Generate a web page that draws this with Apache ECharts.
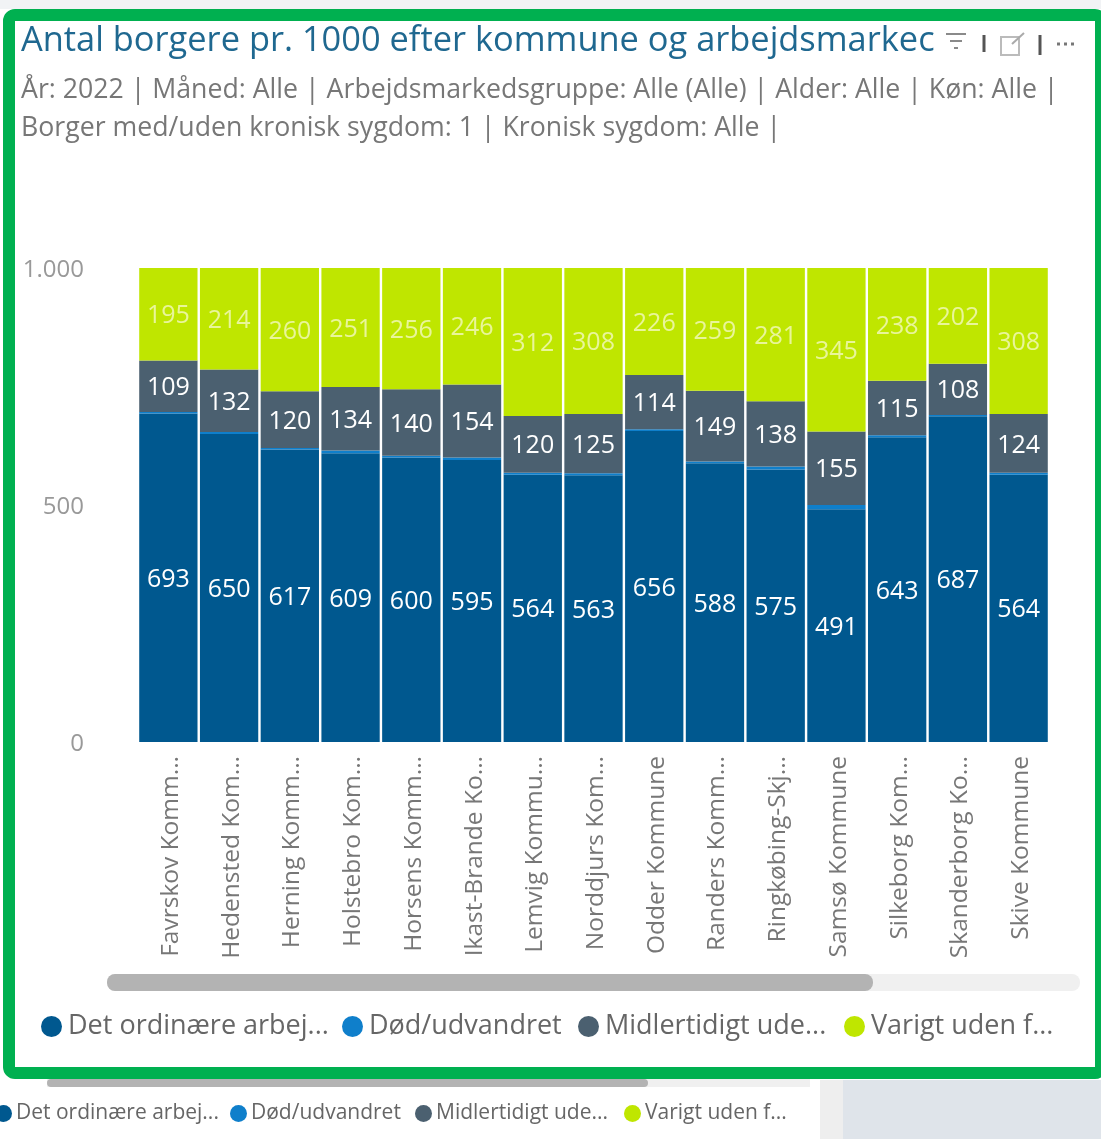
<!DOCTYPE html>
<html><head><meta charset="utf-8">
<style>html,body{margin:0;padding:0;background:#fff}#c{width:1101px;height:1139px}</style>
<script src="https://cdn.jsdelivr.net/npm/echarts@6/dist/echarts.min.js"></script>
</head><body><div id="c"></div>
<script>
const categories=["Favrskov Komm...","Hedensted Kom...","Herning Komm...","Holstebro Kom...","Horsens Komm...","Ikast-Brande Ko...","Lemvig Kommu...","Norddjurs Kom...","Odder Kommune","Randers Komm...","Ringkøbing-Skj...","Samsø Kommune","Silkeborg Kom...","Skanderborg Ko...","Skive Kommune"];
const ordinaere=[693,650,617,609,600,595,564,563,656,588,575,491,643,687,564];
const doed=[3,4,3,6,4,5,4,4,4,4,6,9,4,3,4];
const midlertidig=[109,132,120,134,140,154,120,125,114,149,138,155,115,108,124];
const varigt=[195,214,260,251,256,246,312,308,226,259,281,345,238,202,308];
const legendNames=["Det ordinære arbej...","Død/udvandret","Midlertidigt ude...","Varigt uden f..."];
const yTicks={0:"0",500:"500",1000:"1.000"};
const FONT='"Open Sans","Noto Sans",sans-serif';
const colors=["#00588f","#0f7fcb","#4b6070","#bfe600"];
const chart=echarts.init(document.getElementById('c'),null,{renderer:'canvas'});
const barSeries=(name,data,color,label)=>({name,type:'bar',stack:'a',data,barCategoryGap:'4%',
  itemStyle:{color},label:label?{show:true,position:'inside',offset:[0,2],color:label,fontSize:25,fontFamily:FONT}:{show:false}});
const mkLegend=(i,left,top,size,sym,pad)=>({data:[legendNames[i]],left,top,icon:'circle',itemWidth:sym,itemHeight:sym,padding:0,
  selectedMode:false,textStyle:{color:'#666',fontSize:size,fontFamily:FONT,padding:[0,0,0,pad]}});
const rect=(x,y,w,h,fill,r)=>({type:'rect',shape:{x,y,width:w,height:h,r:r||0},style:{fill},silent:true});
const line=(x1,y1,x2,y2,stroke,w)=>({type:'line',shape:{x1,y1,x2,y2},style:{stroke,lineWidth:w||2},silent:true});
chart.setOption({
  animation:false,backgroundColor:'#fff',
  title:{text:'Antal borgere pr. 1000 efter kommune og arbejdsmarkec',
    subtext:'År: 2022 | Måned: Alle | Arbejdsmarkedsgruppe: Alle (Alle) | Alder: Alle | Køn: Alle |\nBorger med/uden kronisk sygdom: 1 | Kronisk sygdom: Alle |',
    left:21,top:24,padding:0,itemGap:13,
    textStyle:{color:'#1f6890',fontSize:34.4,fontWeight:500,fontFamily:FONT},
    subtextStyle:{color:'#777',fontSize:26.7,lineHeight:38,fontFamily:FONT}},
  legend:[mkLegend(0,41,1013,27,21,1),mkLegend(1,342,1013,27,21,1),mkLegend(2,578,1013,27,21,1),mkLegend(3,844,1013,27,21,1),
    mkLegend(0,-5,1103,21,17,-1),mkLegend(1,230,1103,21,17,-1),mkLegend(2,415,1103,21,17,-1),mkLegend(3,624,1103,21,17,-1)],
  grid:{left:138,right:52,top:268,height:474},
  xAxis:{type:'category',data:categories,axisLine:{show:false},axisTick:{show:false},
    axisLabel:{rotate:90,interval:0,margin:14,formatter:v=>`{t|${v}}`,
      rich:{t:{color:'#777',fontSize:24.5,fontFamily:FONT,padding:[5,0,0,0]}}}},
  yAxis:{type:'value',min:0,max:1000,interval:500,splitLine:{show:false},axisLine:{show:false},axisTick:{show:false},
    axisLabel:{margin:54,formatter:v=>`{t|${yTicks[v]}}`,
      rich:{t:{color:'#999',fontSize:24,fontFamily:FONT,padding:[4,0,0,0]}}}},
  series:[barSeries(legendNames[0],ordinaere,colors[0],'#fff'),barSeries(legendNames[1],doed,colors[1]),
    barSeries(legendNames[2],midlertidig,colors[2],'#fff'),barSeries(legendNames[3],varigt,colors[3],'#e9f59a')],
  graphic:[
    rect(0,0,1101,9,'#f1f3f5'),
    rect(820,1080,281,59,'#dfe4ea'),rect(820,1080,23,59,'#eeeeee'),
    rect(47,1079,763,8,'#f0f0f0'),rect(47,1079,601,8,'#b3b3b3',4),
    {type:'rect',shape:{x:9,y:15,width:1092,height:1058,r:6},style:{fill:'none',stroke:'#00b050',lineWidth:12},silent:true},
    rect(107,974,973,17,'#f0f0f0',8),rect(107,974,766,17,'#b3b3b3',8),
    line(946,34,966,34,'#8a8a8a'),line(950,41,962,41,'#8a8a8a'),line(954,48,958,48,'#8a8a8a'),
    line(984,35,984,52,'#555',3),
    {type:'rect',shape:{x:1001,y:37,width:18,height:18},style:{fill:'none',stroke:'#bbb',lineWidth:2},silent:true},
    line(1012,44,1024,33,'#aaa'),
    line(1040,35,1040,55,'#555',3),
    line(1057,44,1060,44,'#777',3),line(1064,44,1067,44,'#777',3),line(1071,44,1074,44,'#777',3)
  ]
});
</script></body></html>
